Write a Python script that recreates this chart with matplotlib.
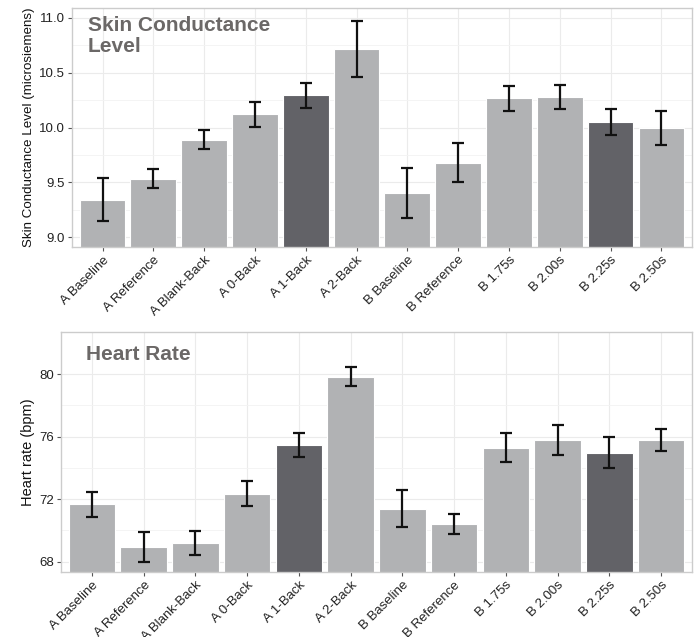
import matplotlib.pyplot as plt
import numpy as np

plt.rcParams["font.family"] = ["Liberation Sans", "DejaVu Sans"]

conditions = ["A Baseline", "A Reference", "A Blank-Back", "A 0-Back", "A 1-Back", "A 2-Back",
              "B Baseline", "B Reference", "B 1.75s", "B 2.00s", "B 2.25s", "B 2.50s"]
highlight = ["A 1-Back", "B 2.25s"]

scl_mean = [9.34, 9.535, 9.89, 10.12, 10.295, 10.715, 9.40, 9.68, 10.265, 10.275, 10.05, 9.997]
scl_err = [0.196, 0.088, 0.084, 0.115, 0.115, 0.253, 0.228, 0.177, 0.118, 0.11, 0.122, 0.152]

hr_mean = [71.69, 68.92, 69.17, 72.35, 75.48, 79.83, 71.39, 70.43, 75.29, 75.78, 74.99, 75.78]
hr_err = [0.80, 0.96, 0.77, 0.80, 0.76, 0.61, 1.19, 0.63, 0.92, 0.95, 1.02, 0.70]

LIGHT = "#b1b2b4"
DARK = "#626267"
TITLE_COL = "#6b6867"


def draw_panel(ax, means, errs, ylim, yticks, ytick_labels, ylabel, ylabel_size, title):
    x = np.arange(1, len(conditions) + 1)
    colors = [DARK if c in highlight else LIGHT for c in conditions]
    ax.set_axisbelow(True)
    ax.bar(x, means, width=0.9, color=colors, edgecolor="white", linewidth=0.8, zorder=2)
    ax.errorbar(x, means, yerr=errs, fmt="none", ecolor="#111111", elinewidth=1.6,
                capsize=4.2, capthick=1.6, zorder=3)
    ax.set_xlim(0.4, len(conditions) + 0.6)
    ax.set_ylim(*ylim)
    ax.set_yticks(yticks)
    ax.set_yticklabels(ytick_labels, fontsize=9.5, color="#222222")
    minor = [(a + b) / 2 for a, b in zip(yticks[:-1], yticks[1:])]
    ax.set_yticks(minor, minor=True)
    ax.set_xticks(x)
    ax.set_xticklabels(conditions, rotation=45, ha="right", rotation_mode="anchor",
                       fontsize=9.5, color="#222222")
    ax.grid(True, which="major", color="#ebebeb", linewidth=0.8)
    ax.grid(True, which="minor", axis="y", color="#f3f3f3", linewidth=0.6)
    ax.tick_params(axis="both", which="major", length=3, color="#555555", pad=2)
    ax.tick_params(axis="y", which="minor", length=0)
    for s in ax.spines.values():
        s.set_color("#cccccc")
        s.set_linewidth(1.0)
    ax.set_ylabel(ylabel, fontsize=ylabel_size, color="#111111", labelpad=3)
    ax.text(0.025, 0.965, title, transform=ax.transAxes, ha="left", va="top",
            fontsize=15, fontweight="bold", color=TITLE_COL, linespacing=1.1, zorder=4)


fig = plt.figure(figsize=(6.98, 6.37), dpi=100)
ax1 = fig.add_axes([0.1032, 0.6122, 0.888, 0.3752])
ax2 = fig.add_axes([0.0874, 0.1016, 0.904, 0.3768])

draw_panel(ax1, scl_mean, scl_err, (8.91, 11.09), [9.0, 9.5, 10.0, 10.5, 11.0],
           ["9.0", "9.5", "10.0", "10.5", "11.0"],
           "Skin Conductance Level (microsiemens)", 9.6, "Skin Conductance\nLevel")
draw_panel(ax2, hr_mean, hr_err, (67.32, 82.69), [68, 72, 76, 80],
           ["68", "72", "76", "80"], "Heart rate (bpm)", 10.5, "Heart Rate")
ax2.texts[0].set_position((0.04, 0.945))

fig.savefig("out.png", dpi=100)
